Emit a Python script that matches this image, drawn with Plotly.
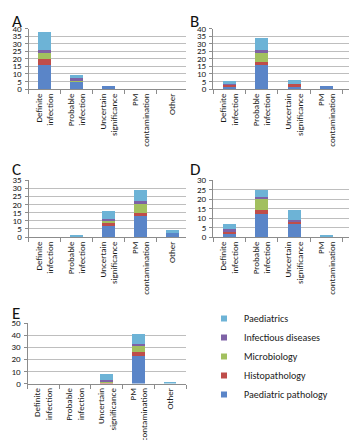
import plotly.graph_objects as go

# ---------------- data ----------------
categories = ["Definite<br>infection", "Probable<br>infection", "Uncertain<br>significance",
              "PM<br>contamination", "Other"]
specialties = ["Paediatric pathology", "Histopathology", "Microbiology",
               "Infectious diseases", "Paediatrics"]
colors = ["#5A85C8", "#BF4D4A", "#A2C05F", "#7E62A6", "#6DB3D6"]

# order of inner lists follows `specialties`
panel_A = [[16, 5, 2, 0, 0], [4, 0, 0, 0, 0], [4, 1, 0, 0, 0], [2, 1, 0, 0, 0], [12, 2, 0, 0, 0]]
panel_B = [[2, 16, 2, 2, 2], [1, 2, 1, 0, 0], [0, 6, 0, 0, 0], [1, 2, 0, 0, 0], [1, 8, 3, 0, 0]]
panel_C = [[0, 0, 7, 13, 3], [0, 0, 2, 2, 0], [0, 0, 1, 5, 0], [0, 0, 1, 2, 0], [0, 1, 5, 7, 1]]
panel_D = [[2, 12, 7, 0, 2], [1, 2, 1, 0, 0], [0, 6, 0, 0, 0], [1, 1, 1, 0, 0], [3, 4, 5, 1, 1]]
panel_E = [[0, 0, 0, 23, 0], [0, 0, 1, 3, 0], [0, 0, 1, 5, 0], [0, 0, 1, 2, 0], [0, 0, 5, 8, 1]]

panel_letters = ["A", "B", "C", "D", "E"]
y_max = [40, 40, 35, 30, 50]
y_step = [5, 5, 5, 5, 10]

# ---------------- figure ----------------
W, H = 357, 440
FONT = "Carlito, Lato, 'Liberation Sans', sans-serif"

fig = go.Figure()

panels = [panel_A, panel_B, panel_C, panel_D, panel_E]
# pixel geometry of each plot area: (left, right, top, bottom, xrange_end)
geom = [
    (20.5, 178, 20.5, 81, 4.42),
    (205, 357, 20.5, 81, 4.18),
    (20.5, 178, 172, 229, 4.42),
    (205, 357, 172, 229, 4.18),
    (19.5, 178, 315, 375.5, 4.5),
]
letter_pos = [(2, 1), (180, 1), (2, 149), (180, 149), (2, 293)]

for i, data in enumerate(panels):
    n = "" if i == 0 else str(i + 1)
    for s, vals in enumerate(data):
        fig.add_trace(go.Bar(
            x=categories, y=vals, name=specialties[s],
            marker=dict(color=colors[s], line=dict(width=0)),
            xaxis="x" + n, yaxis="y" + n, showlegend=False,
            hoverinfo="skip"))
    l, r, t, b, xend = geom[i]
    fig.update_layout(**{
        "xaxis" + n: dict(
            domain=[l / W, r / W], range=[-0.5, xend], type="category",
            anchor="y" + n, tickangle=-90, tickson="boundaries",
            ticks="outside", ticklen=4, tickcolor="#8C8C8C",
            showline=True, linecolor="#8C8C8C", linewidth=1, showgrid=False,
            automargin=False,
            tickfont=dict(size=9, color="#1a1a1a", family=FONT)),
        "yaxis" + n: dict(
            domain=[1 - b / H, 1 - t / H], range=[0, y_max[i]], dtick=y_step[i],
            anchor="x" + n, showgrid=True, gridcolor="#BEBEBE", gridwidth=1,
            showline=True, linecolor="#8C8C8C", linewidth=1,
            ticks="outside", ticklen=3, tickcolor="#8C8C8C",
            zeroline=False, ticklabelstandoff=1, automargin=False,
            tickfont=dict(size=9, color="#1a1a1a", family=FONT)),
    })
    lx, ly = letter_pos[i]
    fig.add_annotation(text=panel_letters[i], xref="paper", yref="paper",
                       x=lx / W, y=1 - ly / H, xanchor="left", yanchor="top",
                       showarrow=False, font=dict(size=17, color="#111", family=FONT))

# legend entries (small square swatches)
for s in reversed(range(len(specialties))):
    fig.add_trace(go.Scatter(
        x=[None], y=[None], mode="markers", name=specialties[s],
        marker=dict(symbol="square", size=6, color=colors[s]),
        xaxis="x", yaxis="y", showlegend=True, hoverinfo="skip"))

fig.update_layout(
    width=W, height=H, margin=dict(l=0, r=0, t=0, b=0, autoexpand=False),
    paper_bgcolor="white", plot_bgcolor="white",
    barmode="stack", bargap=0.6,
    font=dict(family=FONT, size=10, color="#1a1a1a"),
    legend=dict(x=196 / W, y=1 - 296 / H, xanchor="left", yanchor="top",
                traceorder="normal", bgcolor="rgba(0,0,0,0)",
                font=dict(size=10, family=FONT, color="#1a1a1a"),
                itemwidth=30, tracegroupgap=0),
)

fig.write_html("out.html")
